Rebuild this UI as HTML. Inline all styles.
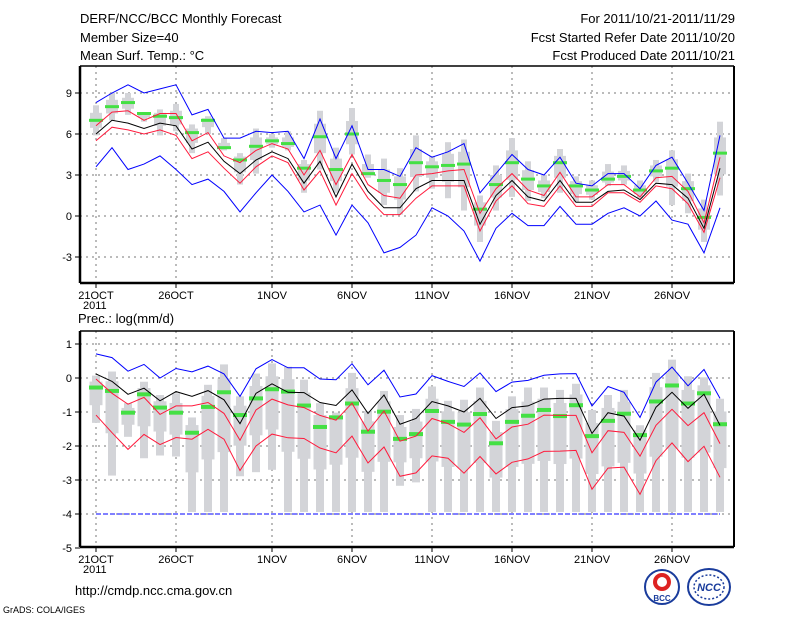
<!DOCTYPE html>
<html><head><meta charset="utf-8"><style>
body{margin:0;background:#fff;width:800px;height:618px;overflow:hidden}
svg{display:block;font-family:"Liberation Sans",sans-serif}
</style></head><body>
<svg id="c" width="800" height="618">
<text x="80" y="23" font-size="13">DERF/NCC/BCC Monthly Forecast</text>
<text x="80" y="42" font-size="13">Member Size=40</text>
<text x="80" y="60" font-size="13">Mean Surf. Temp.: °C</text>
<text x="735" y="23" font-size="13" text-anchor="end">For 2011/10/21-2011/11/29</text>
<text x="735" y="42" font-size="13" text-anchor="end">Fcst Started Refer Date 2011/10/20</text>
<text x="735" y="60" font-size="13" text-anchor="end">Fcst Produced Date 2011/10/21</text>
<text x="78" y="323" font-size="13">Prec.: log(mm/d)</text>
<text x="75" y="595" font-size="13">http://cmdp.ncc.cma.gov.cn</text>
<text x="3" y="613" font-size="9">GrADS: COLA/IGES</text>
<g>
<circle cx="662" cy="587" r="17" fill="#fff" stroke="#1a3c9c" stroke-width="2"/>
<circle cx="662" cy="582" r="9" fill="#d22" />
<circle cx="662" cy="582" r="5" fill="#fff"/>
<text x="662" y="601" font-size="8" font-weight="bold" text-anchor="middle" fill="#1a3c9c">BCC</text>
</g>
<g>
<ellipse cx="709" cy="587" rx="21" ry="18" fill="#fff" stroke="#1a3c9c" stroke-width="2"/>
<ellipse cx="709" cy="587" rx="15" ry="12" fill="none" stroke="#1a3c9c" stroke-width="1.5" stroke-dasharray="2 2"/>
<text x="709" y="591" font-size="11" font-style="italic" font-weight="bold" text-anchor="middle" fill="#1a3c9c">NCC</text>
</g>
</svg>
<script>
// ---- data: top panel (temperature, °C) ----
const days = ["21OCT","26OCT","1NOV","6NOV","11NOV","16NOV","21NOV","26NOV"];
const dayIdx = [0,5,11,16,21,26,31,36];
const tTicks = [9,6,3,0,-3];
const tBlueHi = [8.3,9.0,9.6,9.0,9.3,9.6,7.4,7.8,5.7,5.7,6.2,6.1,6.2,4.2,7.1,4.2,6.6,3.4,3.4,2.9,5.0,4.3,4.7,5.3,1.7,3.1,4.5,3.4,3.0,4.3,2.4,2.2,3.1,3.1,2.0,3.7,4.3,2.4,0.4,5.9];
const tBlueLo = [3.6,5.0,3.4,3.8,4.4,3.4,2.3,2.7,1.8,0.3,1.7,3.0,1.8,0.3,0.8,-1.4,0.8,-0.5,-2.7,-2.3,-1.4,0.6,0.0,-1.1,-3.3,-0.9,0.2,-0.7,-0.7,0.7,-0.6,-0.6,0.2,0.6,0.0,1.1,-0.3,-0.6,-2.7,0.6];
const tMean = [6.0,7.0,6.8,6.4,6.8,6.6,4.9,5.4,4.0,3.1,4.1,4.7,4.2,2.4,4.0,1.4,3.8,1.8,0.6,0.6,2.0,2.6,2.6,2.6,-0.6,1.5,2.6,1.4,1.1,2.6,1.0,1.0,1.8,1.9,1.2,2.4,2.3,1.3,-0.9,3.5];
const tRedHi = [6.6,7.6,7.7,7.0,7.5,7.5,5.5,6.1,4.4,3.9,4.8,5.3,4.9,3.0,4.8,2.3,4.5,2.3,1.5,1.3,3.0,3.1,3.3,3.4,0.2,2.0,3.1,1.9,1.5,3.2,1.4,1.4,2.3,2.3,1.4,2.8,2.9,1.8,-0.5,4.3];
const tRedLo = [5.5,6.5,6.3,6.0,6.3,5.9,4.2,4.7,3.5,2.4,3.6,4.4,3.9,1.9,3.3,0.8,3.1,1.3,0.1,0.1,1.3,2.2,2.2,2.2,-1.1,1.1,2.2,0.9,0.7,2.2,0.7,0.7,1.7,1.7,1.0,2.2,2.0,0.9,-1.2,2.8];
const tGreen = [7.0,8.0,8.3,7.5,7.3,7.2,6.1,7.0,5.0,4.1,5.1,5.5,5.3,3.5,5.8,3.4,6.0,3.1,2.6,2.3,3.9,3.6,3.7,3.8,0.5,2.3,3.9,2.7,2.2,3.9,2.2,1.9,2.7,2.9,1.9,3.3,3.5,2.0,-0.1,4.6];
const tWhiskHi = [8.1,9.0,9.0,7.6,7.8,8.2,6.7,7.3,5.7,4.6,6.4,6.0,6.2,4.1,7.7,5.0,7.9,4.5,4.2,3.5,5.9,4.4,5.4,5.6,1.5,3.7,5.7,4.0,3.0,4.9,2.9,2.6,3.8,3.7,2.6,4.1,4.8,3.1,1.2,6.9];
const tWhiskLo = [5.9,7.0,7.4,6.9,5.9,6.2,4.6,6.0,4.8,2.3,3.1,5.0,4.8,1.7,3.4,1.7,4.5,2.8,0.8,0.1,1.8,2.0,1.3,0.4,-1.9,0.4,1.4,1.1,1.3,1.7,1.0,1.2,2.2,2.3,1.3,2.5,0.8,0.2,-1.9,1.5];
// ---- data: bottom panel (precip, log mm/d) ----
const pTicks = [1,0,-1,-2,-3,-4,-5];
const pBlueHi = [0.71,0.6,0.2,0.4,0.0,0.28,0.18,0.35,0.12,-0.54,0.27,0.54,0.3,0.3,-0.03,-0.05,0.42,-0.2,0.23,-0.56,-0.47,0.07,-0.1,-0.25,0.15,-0.4,-0.12,-0.07,0.08,0.12,0.13,-0.82,-0.25,-0.42,-1.16,-0.12,0.32,-0.23,0.25,-0.6];
const pMean = [0.12,-0.1,-0.48,-0.3,-0.67,-0.4,-0.54,-0.37,-0.64,-1.34,-0.45,-0.17,-0.42,-0.43,-0.72,-0.81,-0.35,-1.04,-0.5,-1.36,-1.19,-0.69,-0.82,-1.0,-0.6,-1.19,-0.87,-0.82,-0.62,-0.6,-0.6,-1.63,-1.02,-1.12,-1.83,-0.86,-0.42,-0.89,-0.48,-1.39];
const pRedHi = [-0.03,-0.45,-0.77,-0.57,-1.07,-0.82,-0.82,-0.72,-1.04,-1.83,-0.94,-0.62,-0.79,-0.87,-1.1,-1.24,-0.74,-1.56,-0.97,-1.86,-1.71,-1.19,-1.34,-1.6,-1.17,-1.79,-1.44,-1.36,-1.09,-1.1,-1.1,-2.2,-1.55,-1.6,-2.3,-1.39,-0.92,-1.4,-1.02,-1.93];
const pRedLo = [-1.09,-1.61,-2.1,-1.66,-1.96,-1.75,-1.8,-1.51,-1.8,-2.72,-2.0,-1.65,-1.76,-1.78,-2.06,-2.2,-1.71,-2.5,-2.03,-2.89,-2.79,-2.29,-2.36,-2.8,-2.31,-2.82,-2.48,-2.38,-2.16,-2.15,-2.13,-3.27,-2.65,-2.62,-3.42,-2.43,-1.91,-2.46,-2.01,-2.92];
const pGreen = [-0.28,-0.38,-1.02,-0.48,-0.87,-1.02,-1.61,-0.85,-0.42,-1.09,-0.6,-0.33,-0.4,-0.81,-1.44,-1.16,-0.75,-1.58,-0.99,-1.79,-1.65,-0.97,-1.29,-1.37,-1.06,-1.92,-1.29,-1.11,-0.94,-1.12,-0.8,-1.71,-1.26,-1.05,-1.68,-0.69,-0.22,-0.75,-0.45,-1.36];
const pWhiskHi = [0.07,0.19,-0.74,-0.11,-0.5,-0.45,-1.16,-0.2,0.4,-0.54,0.13,0.43,0.33,-0.05,-0.74,-1.02,0.15,-0.97,-0.38,-1.09,-0.91,-0.25,-0.67,-0.64,-0.28,-1.26,-0.54,-0.28,-0.28,-0.35,-0.17,-0.94,-0.5,-0.35,-1.39,0.15,0.54,0.05,0.02,-0.61];
const pWhiskLo = [-1.32,-2.87,-1.73,-2.36,-2.28,-2.31,-3.94,-3.94,-3.94,-2.89,-2.77,-2.7,-3.94,-3.94,-3.94,-3.94,-3.94,-3.94,-3.94,-3.17,-3.07,-3.94,-3.94,-3.94,-3.94,-3.94,-3.94,-3.94,-3.94,-3.94,-3.94,-3.94,-3.94,-3.94,-3.94,-3.94,-3.94,-3.94,-3.94,-3.94];
const pFloor = -4;

const NS='http://www.w3.org/2000/svg';
const svg=document.getElementById('c');
function mk(tag,attrs,parent){const e=document.createElementNS(NS,tag);for(const k in attrs)e.setAttribute(k,attrs[k]);(parent||svg).appendChild(e);return e;}
const X=i=>96+16*i;
const L=80,R=734;

function panel(top,bot,yf,ticks,name,wW,bW,gH){
  const g=mk('g',{});
  
  
  // grid
  ticks.forEach(t=>{const y=yf(t);
    if(y>top+2&&y<bot-2){const gl=mk('line',{x1:L,x2:R,y1:y,y2:y,stroke:'#777','stroke-dasharray':'2 4','stroke-width':1},g);
      
      }
    mk('line',{x1:L-5,x2:L,y1:y,y2:y,stroke:'#000'},g);
    const tx=mk('text',{x:L-8,y:y+4,'font-size':11,'text-anchor':'end'},g);tx.textContent=t;
    
    
  });
  dayIdx.forEach((d,k)=>{const x=X(d);
    const gl=mk('line',{x1:x,x2:x,y1:top,y2:bot,stroke:'#777','stroke-dasharray':'2 4'},g);
    
    
    mk('line',{x1:x,x2:x,y1:bot,y2:bot+5,stroke:'#000'},g);
    const tx=mk('text',{x:x,y:bot+16,'font-size':11,'text-anchor':'middle'},g);tx.textContent=days[k];
    
    
  });
  const yr=mk('text',{x:83,y:bot+26,'font-size':11},g);yr.textContent='2011';
  
  
  return g;
}
function boxes(g,hi,lo,green,yf,wW,bW,gH,nm){
  hi.forEach((h,i)=>{const x=X(i);
    const y1=yf(h),y2=yf(lo[i]);
    const w=mk('rect',{x:x-wW/2,y:y1,width:wW,height:Math.max(1,y2-y1),fill:'#d3d4d8'},g);
    
    
    const bh=(h+green[i])/2, bl=(lo[i]+green[i])/2;
    const b=mk('rect',{x:x-bW/2,y:yf(bh),width:bW,height:Math.max(1,yf(bl)-yf(bh)),fill:'#d3d4d8'},g);
    
    
  });
}
function line(g,arr,yf,col,nm,w){
  const p=mk('polyline',{points:arr.map((v,i)=>X(i)+','+yf(v).toFixed(1)).join(' '),fill:'none',stroke:col,'stroke-width':w||1},g);
  
  
}
function greens(g,arr,yf,h,nm){
  arr.forEach((v,i)=>{const r=mk('rect',{x:X(i)-7,y:yf(v)-h/2,width:14,height:h,fill:'#44e044'},g);
    
    });
}
function frame(g,top,bot){
  mk('line',{x1:L,x2:R,y1:top,y2:top,stroke:'#000','stroke-width':1.5},g);
  mk('line',{x1:R,x2:R,y1:top,y2:bot,stroke:'#000','stroke-width':2},g);
  mk('line',{x1:L,x2:L,y1:top,y2:bot,stroke:'#000','stroke-width':2.5},g);
  mk('line',{x1:L,x2:R,y1:bot,y2:bot,stroke:'#000','stroke-width':2.5},g);
}
// top panel
const yT=v=>216-v*41/3;
const gT=panel(66,283,yT,tTicks,'temperature-panel');
boxes(gT,tWhiskHi,tWhiskLo,tGreen,yT,6,12,3,'temp');
greens(gT,tGreen,yT,3,'temp-ensemble-marker');
line(gT,tBlueHi,yT,'#0000ff','temp-blue-upper');
line(gT,tBlueLo,yT,'#0000ff','temp-blue-lower');
line(gT,tRedHi,yT,'#ff1a3c','temp-red-upper');
line(gT,tRedLo,yT,'#ff1a3c','temp-red-lower');
line(gT,tMean,yT,'#000','temp-mean');
frame(gT,66,283);
// bottom panel
const yP=v=>378-v*34;
const gP=panel(331,547,yP,pTicks,'precip-panel');
boxes(gP,pWhiskHi,pWhiskLo,pGreen,yP,8,13,4,'precip');
greens(gP,pGreen,yP,4,'precip-ensemble-marker');
line(gP,pBlueHi,yP,'#0000ff','precip-blue-upper');
const fl=mk('line',{x1:X(0),x2:X(pGreen.length-1),y1:yP(pFloor),y2:yP(pFloor),stroke:'#0000ff','stroke-dasharray':'5 2'},gP);


line(gP,pRedHi,yP,'#ff1a3c','precip-red-upper');
line(gP,pRedLo,yP,'#ff1a3c','precip-red-lower');
line(gP,pMean,yP,'#000','precip-mean');
frame(gP,331,547);
</script>
</body></html>
